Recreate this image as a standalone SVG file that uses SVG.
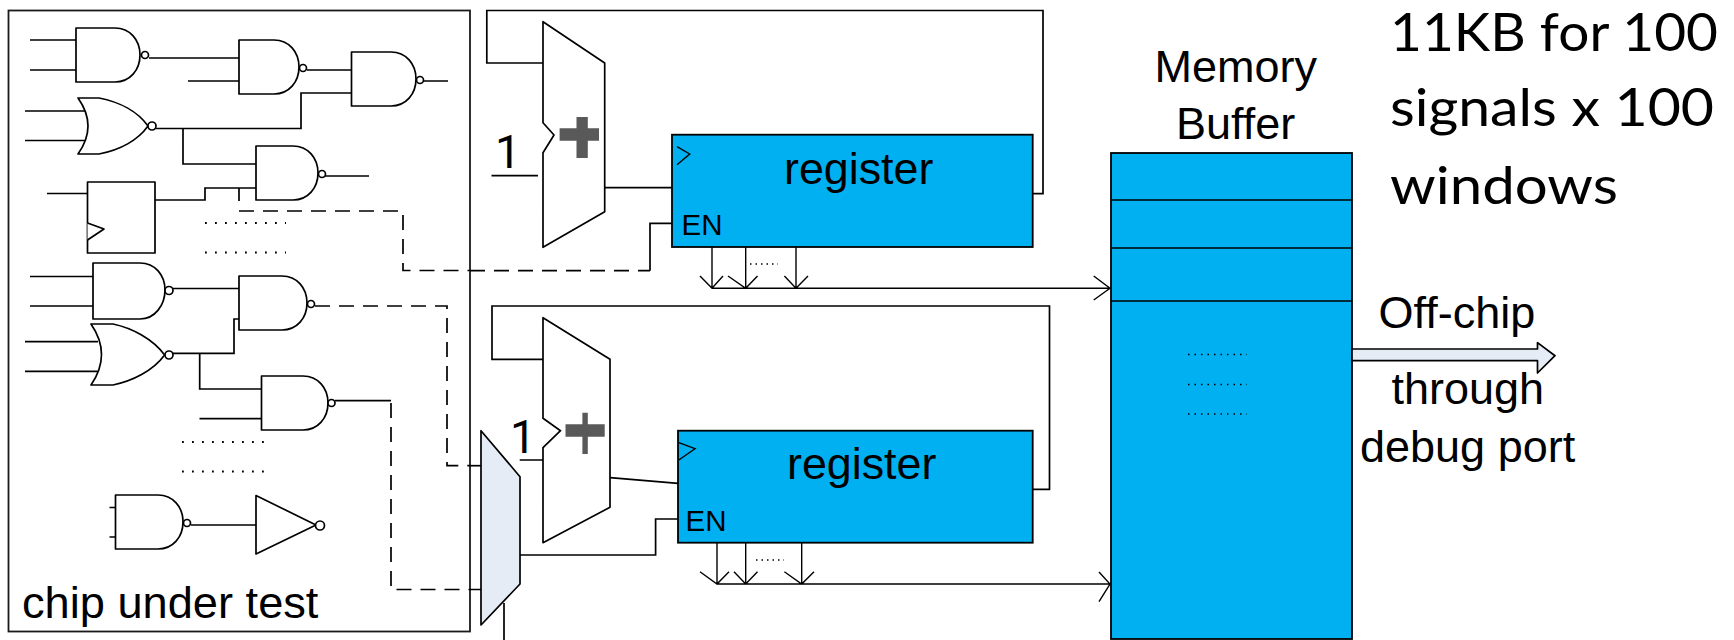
<svg xmlns="http://www.w3.org/2000/svg" width="1734" height="640" viewBox="0 0 1734 640">
<style>
.g{fill:#fff;stroke:#000;stroke-width:1.7;stroke-linejoin:round}
.w{fill:none;stroke:#000;stroke-width:1.7}
.t{fill:none;stroke:#000;stroke-width:1.4}
.d{fill:none;stroke:#000;stroke-width:1.7;stroke-dasharray:15 9}
.box{fill:none;stroke:#1a1a1a;stroke-width:1.8}
.dots{fill:none;stroke:#000;stroke-width:1.8;stroke-dasharray:1.8 8.2}
.dots2{fill:none;stroke:#000;stroke-width:1.5;stroke-dasharray:1.5 4}
.dots3{fill:none;stroke:#000;stroke-width:1.5;stroke-dasharray:1.5 5}
.reg{fill:#00b0f0;stroke:#000;stroke-width:1.8}
.mux{fill:#e6ecf6;stroke:#000;stroke-width:1.7;stroke-linejoin:round}
.plus{fill:#595959}
text{font-family:"Liberation Sans",Arial,sans-serif;fill:#000}
.one{font-family:Roboto,"Liberation Sans",sans-serif;font-size:46px}
.big{font-family:Lato,"Noto Sans",sans-serif;font-size:51.5px}
</style>

<rect id="chip-boundary" class="box" x="8.5" y="10.5" width="461.5" height="621"/>

<g id="connectors">
<path class="w" d="M30 40H76M30 70H76M149 58H239M188 81H239M307 70H351.5M420 81H448"/>
<path class="w" d="M25 111H85M25 140.500H85M156 128.500H301V93H351.500M183 128.500V164H256M47 193.500H87.500M155 200H205V188H256M239 188V201M324 176H369"/>
<path class="d" d="M239 211H403V270.500H470"/>
<path class="d" d="M470 270.700H650"/>
<path class="w" d="M650 270.700V223.300H672"/>
<path class="w" d="M30 276.500H93M30 306H93M173 288.500H239M25 341.700H98M25 371.300H98M173 353.300H234V319H239M199.700 353.300V389H261.500M199.500 418.700H261.500M335 400.700H391M109.500 507.500H115.500M109.500 537H115.500M191 525H256"/>
<path class="d" d="M315 306H447V465.700H470"/>
<path class="w" d="M470 465.700H481"/>
<path class="d" d="M391 403V589.500H481"/>
<path class="w" d="M504 603V640M520 555H655.600V519H678"/>
<path class="w" d="M604.700 187.700H672M543 63H486.800V10.500H1043V193.700H1032.600M491.500 175.700H538"/>
<path class="w" d="M610 477.700L678 483.300M543 359.300H492V306H1049.500V489.300H1032.700M519.700 460H543"/>
<path class="t" d="M712 247V288.300M745.700 247V288.300M796 247V288.300M712 288.300H1110M700 276L712 288.300L723 276M728 276L745.700 288.300L757.500 276M784.400 276L796 288.300L808 276M1093.700 276L1110 288.300L1093.700 300"/>
<path class="t" d="M717 542.700V584M745.700 542.700V584M801.700 542.700V584M717 584H1110M700 571.700L717 584L729 571.700M734 571.700L745.700 584L757.500 571.700M784.400 571.700L801.700 584L814 571.700M1099 572L1110 584L1099 601.700"/>
<path class="dots2" d="M750 264H778M756 560H784"/>
<path class="dots" d="M205 223H286M205 252.500H286M182 442H264M182 471.500H264"/>
</g>

<g id="nand1"><path class="g" d="M76 28H115C130 28 140 40 140 55C140 70 130 82 115 82H76Z"/><circle class="g" cx="145" cy="55" r="3.500"/></g>
<g id="nand2"><path class="g" d="M239 40H274C289 40 299 52 299 67C299 82 289 94 274 94H239Z"/><circle class="g" cx="303" cy="68" r="3.500"/></g>
<g id="nand3"><path class="g" d="M351.500 52H391C406 52 416 64 416 79C416 94 406 106 391 106H351.500Z"/><circle class="g" cx="420" cy="80" r="3.500"/></g>
<g id="nor1"><path class="g" d="M78 98H99C120 102 138 112 148 126C138 140 120 150 99 154H78Q98 126 78 98Z"/><circle class="g" cx="152" cy="126" r="4"/></g>
<g id="nand4"><path class="g" d="M256 146H293C308 146 318 158 318 173C318 188 308 200 293 200H256Z"/><circle class="g" cx="322" cy="174" r="3.500"/></g>
<g id="flipflop"><rect class="g" x="87.500" y="182" width="67.500" height="71"/><path class="g" d="M87.500 223L104 229L87.500 240"/></g>
<g id="nand5"><path class="g" d="M93 263H140C155 263 165 275 165 290C165 305 155 319 140 319H93Z"/><circle class="g" cx="169" cy="290.500" r="4"/></g>
<g id="nand6"><path class="g" d="M239 276H282C297 276 307 288 307 303C307 318 297 330 282 330H239Z"/><circle class="g" cx="311" cy="304" r="3.500"/></g>
<g id="nor2"><path class="g" d="M91 324H113C132 328 153 339 164.600 355C153 371 132 381 113 385H91Q112 354.500 91 324Z"/><circle class="g" cx="169" cy="355" r="4"/></g>
<g id="nand7"><path class="g" d="M261.500 376H303C318 376 328 388 328 403C328 418 318 430 303 430H261.500Z"/><circle class="g" cx="331.500" cy="403" r="3.500"/></g>
<g id="nand8"><path class="g" d="M115.500 495H158C173 495 183 507 183 522C183 537 173 549 158 549H115.500Z"/><circle class="g" cx="187" cy="523" r="3.500"/></g>
<g id="inverter"><path class="g" d="M256 495.500L316 525L256 554Z"/><circle class="g" cx="320" cy="525.500" r="4.500"/></g>
<g id="chip-label"><text x="22" y="618" font-size="45.200">chip under test</text></g>

<g id="mux"><path class="mux" d="M481 430.700L520 476.700V584L481 625Z"/></g>

<g id="adder-top">
<path class="g" d="M543 21.700L604.700 63V211.700L543 247.300V152.700L554 135L543 122.700Z"/>
<path class="plus" d="M576.500 117H587.800V128.300H599V140.700H587.800V158H576.500V140.700H559.600V128.300H576.500Z"/>
<text class="one" x="495" y="168">1</text>
</g>
<g id="register-top">
<rect class="reg" x="672" y="134.700" width="360.700" height="112.300"/>
<path class="t" d="M677 146.700L689.700 154L677 164.700"/>
<text x="784" y="184" font-size="44.800">register</text>
<text x="681.500" y="235" font-size="29.500">EN</text>
</g>

<g id="adder-bottom">
<path class="g" d="M543 317.700L610 359.300V507.300L543 542.700V447.700L560.500 430.700L543 418.300Z"/>
<path class="plus" d="M582.400 412.700H587.800V424.300H604.700V436.700H587.800V454H582.400V436.700H565.500V424.300H582.400Z"/>
<text class="one" x="510" y="452.700">1</text>
</g>
<g id="register-bottom">
<rect class="reg" x="678" y="430.700" width="354.700" height="112"/>
<path class="t" d="M678.800 442.700L695 448.700L678.800 460"/>
<text x="787" y="479" font-size="44.800">register</text>
<text x="685.500" y="531" font-size="29.500">EN</text>
</g>

<g id="memory-buffer">
<rect class="reg" x="1111" y="153" width="241" height="486"/>
<path class="w" d="M1111 200H1352M1111 248H1352M1111 301H1352"/>
<path class="dots3" d="M1188 354.500H1247M1188 384.400H1247M1188 414H1247"/>
<text x="1154.500" y="82" font-size="45">Memory</text>
<text x="1176" y="138.500" font-size="45">Buffer</text>
</g>

<g id="off-chip-arrow">
<path class="mux" d="M1352 349H1537.500V342.600L1555 355.700L1537.500 373V360.600H1352Z"/>
<text x="1378.500" y="328" font-size="45">Off-chip</text>
<text x="1391.500" y="403.700" font-size="45">through</text>
<text x="1360" y="462" font-size="45">debug port</text>
</g>

<g id="note">
<text class="big" x="1390" y="51" textLength="328" lengthAdjust="spacingAndGlyphs">11KB for 100</text>
<text class="big" x="1390" y="126" textLength="324" lengthAdjust="spacingAndGlyphs">signals x 100</text>
<text class="big" x="1390" y="203.700" textLength="228" lengthAdjust="spacingAndGlyphs">windows</text>
</g>
</svg>
